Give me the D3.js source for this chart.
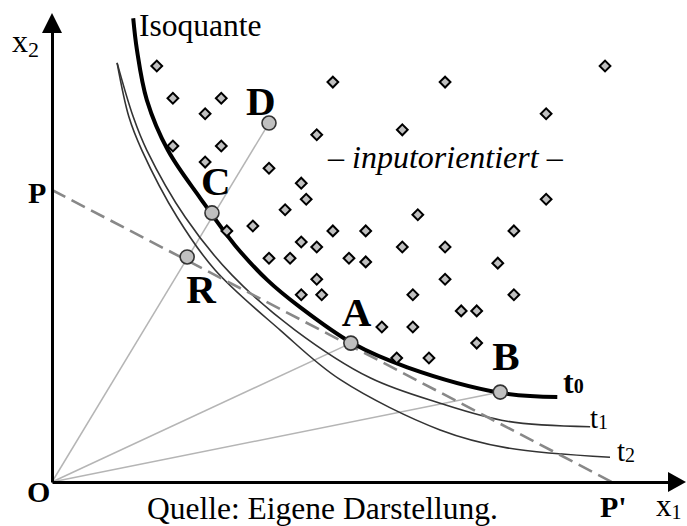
<!DOCTYPE html>
<html>
<head>
<meta charset="utf-8">
<script src="https://cdn.jsdelivr.net/npm/d3@7"></script>
<style>
  html, body { margin: 0; padding: 0; background: #fff; }
  svg { display: block; }
  text { font-family: "Liberation Serif", "Times New Roman", serif; fill: #000; }
</style>
</head>
<body>
<svg id="chart" width="687" height="526"></svg>
<script>
// ---- data (x1, x2 in input units) ----
const inefficientUnits = [
  [16.9,67.1],[19.5,61.9],[27.3,61.9],[24.7,59.4],[45.3,64.5],[63.4,64.5],[89.2,67.1],
  [79.7,59.4],[19.5,54.2],[27.3,54.2],[24.7,51.6],[42.7,56.0],[56.5,56.8],[35.0,50.6],
  [40.2,48.2],[41.0,45.6],[37.6,43.9],[79.7,45.6],[59.0,43.1],[32.4,41.3],[28.2,40.5],
  [45.3,40.5],[50.6,40.5],[74.5,40.5],[40.2,38.7],[42.7,37.9],[56.5,37.9],[63.4,37.9],
  [35.0,36.1],[38.4,36.1],[47.9,36.1],[50.6,35.5],[71.9,35.3],[42.7,32.7],[63.4,32.7],
  [40.2,30.2],[43.5,30.2],[58.2,30.2],[74.5,30.2],[66.0,27.6],[68.5,27.6],[53.2,25.0],
  [58.2,25.0],[68.5,22.4],[55.6,20.0],[60.8,20.0]
];
const isoquantT0 = [
  [13.1,74.8],[13.7,69.7],[15.3,61.6],[18.7,53.5],[23.9,45.8],[29.5,38.2],[34.7,32.6],
  [40.0,28.2],[48.4,22.4],[57.3,18.5],[72.3,14.4],[81.5,13.7]
];
const isoquantT1 = [
  [10.5,67.6],[13.1,58.9],[15.3,53.5],[21.5,42.7],[29.0,33.4],[39.2,24.5],[51.3,16.8],
  [62.6,12.7],[73.4,9.8],[86.8,8.9]
];
const isoquantT2 = [
  [10.5,67.6],[12.4,58.9],[14.5,53.5],[20.2,42.7],[26.3,34.2],[36.8,24.5],[46.5,16.5],
  [62.6,8.4],[73.4,5.5],[90.0,4.0]
];
const namedPoints = [
  {name:"D", x:35.0, y:57.9},
  {name:"C", x:25.8, y:43.4},
  {name:"R", x:21.8, y:36.3},
  {name:"A", x:48.2, y:22.4},
  {name:"B", x:72.3, y:14.5}
];
const rays = ["D","A","B"];
const budgetLine = [[0,47.1],[90.3,0]];

// ---- scales ----
const svg = d3.select("#chart");
const x = d3.scaleLinear().domain([0,100]).range([52,672]);
const y = d3.scaleLinear().domain([0,75]).range([482,17]);
const P = Object.fromEntries(namedPoints.map(d => [d.name, d]));

// ---- rays from origin ----
svg.append("g").selectAll("line").data(rays).join("line")
  .attr("x1", x(0)).attr("y1", y(0))
  .attr("x2", d => x(P[d].x)).attr("y2", d => y(P[d].y))
  .attr("stroke", "#b5b5b5").attr("stroke-width", 1.5);

// ---- isoquants ----
const line = d3.line().x(d => x(d[0])).y(d => y(d[1])).curve(d3.curveCatmullRom.alpha(0.5));
[isoquantT1, isoquantT2].forEach(s => {
  svg.append("path").attr("d", line(s)).attr("fill","none")
    .attr("stroke","#333").attr("stroke-width",1.6);
});

// ---- budget line ----
svg.append("path").attr("d", d3.line().x(d => x(d[0])).y(d => y(d[1]))(budgetLine))
  .attr("fill","none").attr("stroke","#888").attr("stroke-width",2.6)
  .attr("stroke-dasharray","15,7");

svg.append("path").attr("d", line(isoquantT0)).attr("fill","none")
  .attr("stroke","#000").attr("stroke-width",4);

// ---- diamonds ----
svg.append("g").selectAll("path").data(inefficientUnits).join("path")
  .attr("d", d3.symbol().type(d3.symbolSquare).size(58))
  .attr("transform", d => `translate(${x(d[0])},${y(d[1])}) rotate(45)`)
  .attr("fill","#c0c0c0").attr("stroke","#000").attr("stroke-width",2);

// ---- named points ----
svg.append("g").selectAll("circle").data(namedPoints).join("circle")
  .attr("cx", d => x(d.x)).attr("cy", d => y(d.y)).attr("r", 7)
  .attr("fill","#c0c0c0").attr("stroke","#333").attr("stroke-width",1.6);

const labelOffsets = {D:[-23,-8], C:[-11,-18], R:[-1,46], A:[-9,-17], B:[-8,-22]};
svg.append("g").selectAll("text").data(namedPoints).join("text")
  .attr("x", d => x(d.x) + labelOffsets[d.name][0])
  .attr("y", d => y(d.y) + labelOffsets[d.name][1])
  .attr("font-size", 41).attr("font-weight","bold")
  .text(d => d.name);

// ---- axes ----
const xAxis = svg.append("g").attr("transform", `translate(0,${y(0)})`)
  .call(d3.axisBottom(x).tickValues([]).tickSizeOuter(0));
const yAxis = svg.append("g").attr("transform", `translate(${x(0)},0)`)
  .call(d3.axisLeft(y).tickValues([]).tickSizeOuter(0));
[xAxis, yAxis].forEach(g => g.select(".domain").attr("stroke","#000").attr("stroke-width",3));
svg.append("path").attr("d", `M${x(0)},13 L${x(0)-10},33 L${x(0)+10},33 Z`).attr("fill","#000");
svg.append("path").attr("d", `M686,${y(0)} L668,${y(0)-10} L668,${y(0)+10} Z`).attr("fill","#000");

// ---- texts ----
function sub(tx, ty, main, s, mainSize, subSize, dy, bold) {
  const t = svg.append("text").attr("x", tx).attr("y", ty).attr("font-size", mainSize)
    .attr("font-weight", bold ? "bold" : "normal");
  t.append("tspan").text(main);
  t.append("tspan").attr("font-size", subSize).attr("dy", dy).text(s);
}
sub(12, 52, "x", "2", 32, 22, 5, false);
sub(656, 516, "x", "1", 31, 20, 3, false);
sub(563, 393, "t", "0", 32, 20, 0, true);
sub(590, 428, "t", "1", 29, 20, 1, false);
sub(617, 461, "t", "2", 29, 20, 1, false);

svg.append("text").attr("x", 139).attr("y", 36).attr("font-size", 31.5).text("Isoquante");
svg.append("text").attr("x", 328).attr("y", 168).attr("font-size", 32).attr("font-style","italic")
  .text("\u2013 inputorientiert \u2013");
svg.append("text").attr("x", 147).attr("y", 519).attr("font-size", 31.5).text("Quelle: Eigene Darstellung.");
svg.append("text").attr("x", 28).attr("y", 203).attr("font-size", 30).attr("font-weight","bold").text("P");
svg.append("text").attr("x", 27).attr("y", 502).attr("font-size", 30).attr("font-weight","bold").text("O");
svg.append("text").attr("x", 600).attr("y", 517).attr("font-size", 30).attr("font-weight","bold").text("P'");
</script>
</body>
</html>
